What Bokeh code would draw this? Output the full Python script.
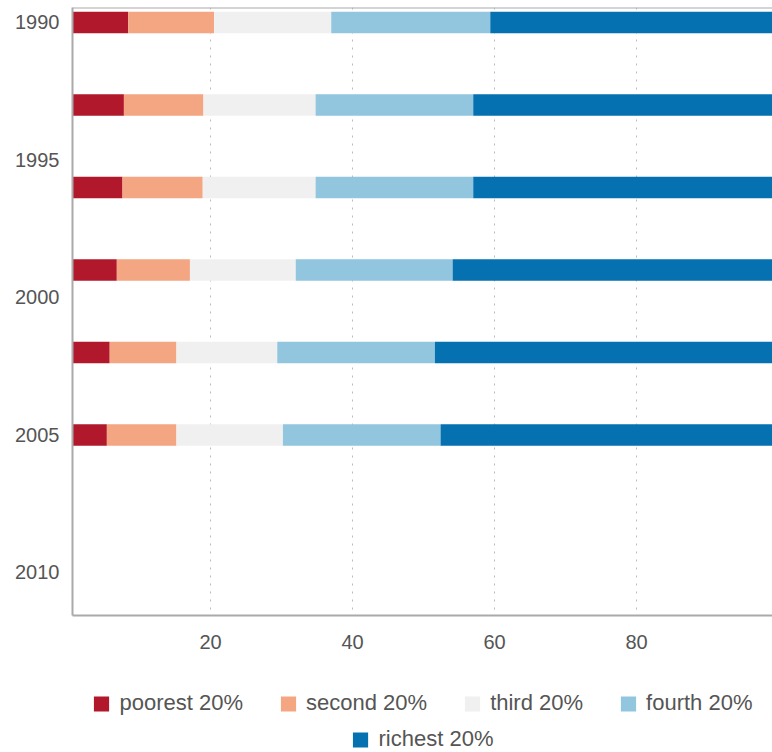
from bokeh.plotting import figure
from bokeh.models import ColumnDataSource, Range1d, FixedTicker, Legend, LegendItem, Span
from bokeh.layouts import column
from bokeh.embed import file_html
from bokeh.resources import INLINE

years = [1990, 1993, 1996, 1999, 2002, 2005]
poorest = [8.4, 7.8, 7.6, 6.8, 5.8, 5.4]
second = [12.1, 11.2, 11.3, 10.3, 9.4, 9.8]
third = [16.5, 15.8, 15.9, 14.9, 14.2, 15.0]
fourth = [22.4, 22.2, 22.2, 22.1, 22.2, 22.2]
richest = [40.6, 43.0, 43.0, 45.9, 48.4, 47.6]

series_keys = ["poorest", "second", "third", "fourth", "richest"]
series_labels = ["poorest 20%", "second 20%", "third 20%", "fourth 20%", "richest 20%"]
colors = ["#b2182b", "#f4a582", "#f0f0f0", "#92c5de", "#0571b0"]
year_ticks = [1990, 1995, 2000, 2005, 2010]
x_ticks = [20, 40, 60, 80]

source = ColumnDataSource(dict(year=years, poorest=poorest, second=second,
                               third=third, fourth=fourth, richest=richest))

TEXT = "#555555"
AXIS = "#aaaaaa"
Y_TOP = 1989.455

p = figure(width=772, height=680, output_backend="svg", toolbar_location=None,
           x_range=Range1d(0.56, 99.15), y_range=Range1d(2011.564, Y_TOP),
           min_border_left=72, min_border_right=0, min_border_top=7, min_border_bottom=65)

renderers = p.hbar_stack(series_keys, y="year", height=0.78, color=colors,
                         line_color=None, source=source)

p.xaxis.ticker = FixedTicker(ticks=x_ticks)
p.yaxis.ticker = FixedTicker(ticks=year_ticks)
for ax in (p.xaxis, p.yaxis):
    ax.axis_line_color = AXIS
    ax.axis_line_width = 2
    ax.major_tick_line_color = None
    ax.minor_tick_line_color = None
    ax.major_tick_out = 0
    ax.major_tick_in = 0
    ax.major_label_text_color = TEXT
    ax.major_label_text_font = "Liberation Sans"
    ax.major_label_text_font_size = "20px"
p.yaxis.major_label_standoff = 13
p.xaxis.major_label_standoff = 19

p.ygrid.grid_line_color = None
p.xgrid.grid_line_color = "#bbbbbb"
p.xgrid.grid_line_dash = "2 6"
p.xgrid.grid_line_width = 1

p.outline_line_color = None
p.add_layout(Span(location=Y_TOP, dimension="width", line_color=AXIS, line_width=2))


def legend_row(idx, height):
    f = figure(width=772, height=height, output_backend="svg", toolbar_location=None,
               x_range=Range1d(0, 1), y_range=Range1d(0, 1),
               x_axis_location=None, y_axis_location=None,
               min_border_left=72, min_border_right=0, min_border_top=0, min_border_bottom=0)
    f.outline_line_color = None
    f.grid.grid_line_color = None
    items = []
    for i in idx:
        r = f.hbar(y=[-5], left=[-6], right=[-5], height=0.1, color=colors[i], line_color=None)
        items.append(LegendItem(label=series_labels[i], renderers=[r]))
    f.add_layout(Legend(items=items, orientation="horizontal", location="center",
                        margin=0, padding=0, spacing=35,
                        glyph_width=19, glyph_height=19, label_standoff=9,
                        label_text_font="Liberation Sans", label_text_font_size="22px",
                        label_text_color=TEXT, border_line_color=None,
                        background_fill_alpha=0))
    return f


row1 = legend_row([0, 1, 2, 3], 46)
row2 = legend_row([4], 26)

open("out.html", "w").write(file_html(column(p, row1, row2, spacing=0), INLINE))
